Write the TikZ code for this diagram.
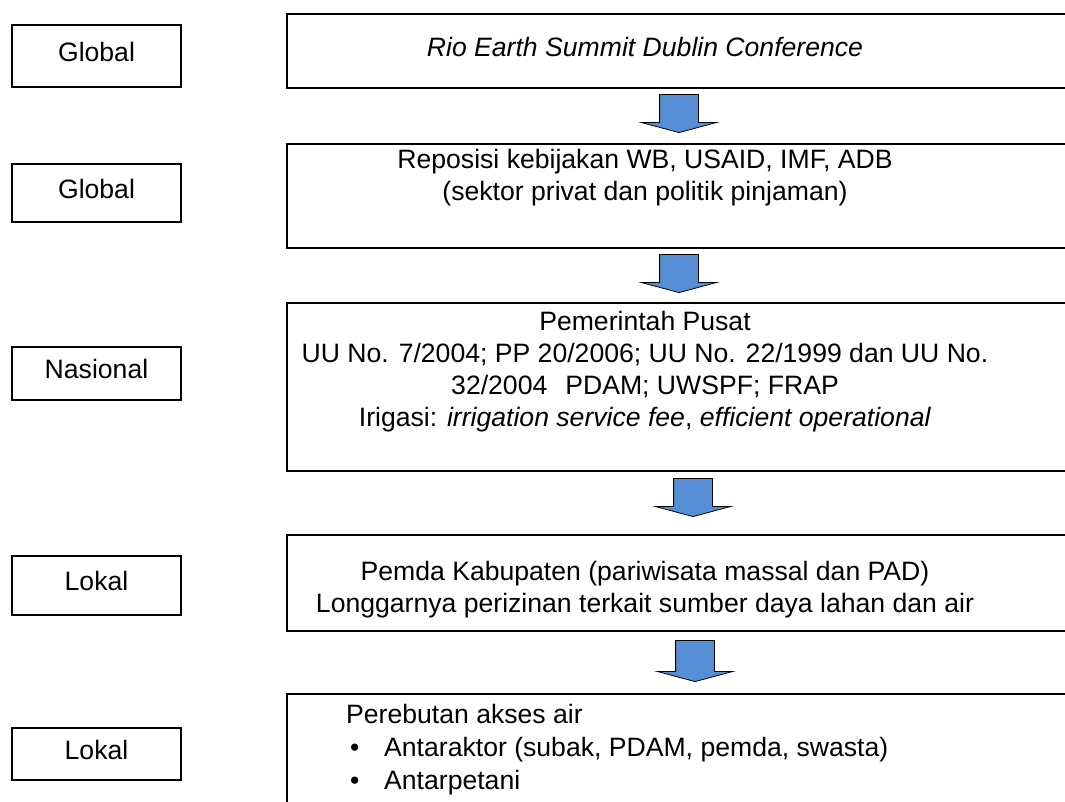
\documentclass[tikz,border=0pt]{standalone}
\usepackage{fontspec}
\setmainfont{Liberation Sans}
\usepackage{xcolor}
\usetikzlibrary{shapes.arrows,positioning}
\definecolor{arrowblue}{RGB}{85,142,213}

\begin{document}
\begin{tikzpicture}[
    x=1pt, y=1pt,
    lvl/.style={draw, line width=1.6pt, minimum width=169pt, inner sep=0pt, text height=19pt, text depth=8pt, font=\fontsize{26.6}{32}\selectfont},
    panel/.style={draw, line width=1.6pt, anchor=north west, minimum width=900pt, inner sep=0pt},
    txt/.style={align=center, inner sep=0pt, font=\fontsize{26.6}{32}\selectfont},
    blockarrow/.style={single arrow, draw, fill=arrowblue, line width=0.8pt, rotate=-90, anchor=tip,
      minimum height=38pt, inner xsep=0pt, inner ysep=19pt,
      single arrow head extend=18.5pt, single arrow tip angle=150}
  ]
    \useasboundingbox (0,0) rectangle (1065,802);
    \clip (0,0) rectangle (1065,802);

    % levels
    \node[lvl, minimum height=62pt] (g1) at (96.5,746) {Global};
    \node[lvl, minimum height=58pt] (g2) at (96.5,609) {Global};
    \node[lvl, minimum height=53pt] (nas) at (96.5,428.5) {Nasional};
    \node[lvl, minimum height=59pt] (lok1) at (96.5,216.5) {Lokal};
    \node[lvl, minimum height=52pt] (lok2) at (96.5,48) {Lokal};

    % panels
    \node[panel, minimum height=74pt] (r1) at (286,789) {};
    \node[panel, minimum height=104pt] (r2) at (286,659) {};
    \node[panel, minimum height=168pt] (r3) at (286,500) {};
    \node[panel, minimum height=96pt] (r4) at (286,268) {};
    \node[panel, minimum height=140pt] (r5) at (286,109) {};

    \node[txt] (t1) at (645,755) {\itshape Rio Earth Summit Dublin Conference};
    \node[txt] (t2) at (645,624) {Reposisi kebijakan WB, USAID, IMF, ADB\\(sektor privat dan politik pinjaman)};
    \node[txt] (t3) at (645,430) {Pemerintah Pusat\\
      UU No. 7/2004; PP 20/2006; UU No. 22/1999 dan UU No.\\
      32/2004\hspace{18pt}PDAM; UWSPF; FRAP\\
      Irigasi: \textit{irrigation service fee}, \textit{efficient operational}};
    \node[txt] (t4) at (645,212.5) {Pemda Kabupaten (pariwisata massal dan PAD)\\Longgarnya perizinan terkait sumber daya lahan dan air};
    \node[txt, align=left, anchor=west, font=\fontsize{26.6}{33}\selectfont] (t5) at (346,52) {Perebutan akses air\\
      \hspace*{4pt}\makebox[34pt][l]{\textbullet}Antaraktor (subak, PDAM, pemda, swasta)\\
      \hspace*{4pt}\makebox[34pt][l]{\textbullet}Antarpetani};

    % arrows
    \node[blockarrow] (a1) at (679,669) {};
    \node[blockarrow] (a2) at (679,509) {};
    \node[blockarrow] (a3) at (693,285) {};
    \node[blockarrow, minimum height=41pt] (a4) at (695,120) {};
\end{tikzpicture}
\end{document}
